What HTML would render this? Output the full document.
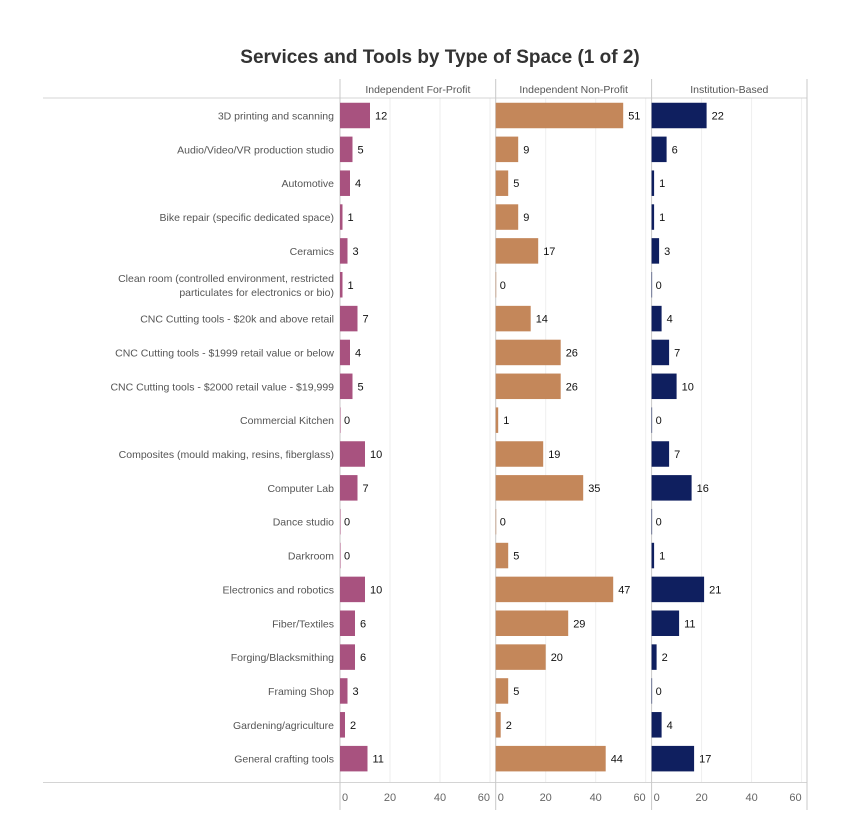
<!DOCTYPE html>
<html><head><meta charset="utf-8"><style>
body{margin:0;background:#fff;width:868px;height:831px;overflow:hidden;font-family:"Liberation Sans",sans-serif}
</style></head><body>
<svg id="chart" width="868" height="831" xmlns="http://www.w3.org/2000/svg">
<text x="440" y="63" text-anchor="middle" font-size="19" font-weight="bold" fill="#333">Services and Tools by Type of Space (1 of 2)</text>
<g id="g"></g>
</svg>
<script>
const categories=["3D printing and scanning","Audio/Video/VR production studio","Automotive","Bike repair (specific dedicated space)","Ceramics","Clean room (controlled environment, restricted|particulates for electronics or bio)","CNC Cutting tools - $20k and above retail","CNC Cutting tools - $1999 retail value or below","CNC Cutting tools - $2000 retail value - $19,999","Commercial Kitchen","Composites (mould making, resins, fiberglass)","Computer Lab","Dance studio","Darkroom","Electronics and robotics","Fiber/Textiles","Forging/Blacksmithing","Framing Shop","Gardening/agriculture","General crafting tools"];
const forProfit=[12,5,4,1,3,1,7,4,5,0,10,7,0,0,10,6,6,3,2,11];
const nonProfit=[51,9,5,9,17,0,14,26,26,1,19,35,0,5,47,29,20,5,2,44];
const institution=[22,6,1,1,3,0,4,7,10,0,7,16,0,1,21,11,2,0,4,17];
const panelNames=["Independent For-Profit","Independent Non-Profit","Institution-Based"];
const ticks=[0,20,40,60];
const series=[forProfit,nonProfit,institution];
const colors=["#a8527f","#c4875a","#0f1f5f"];
const ns="http://www.w3.org/2000/svg";
const g=document.getElementById("g");
const panelX=[340,495.7,651.6], pxPer=2.5, topY=98, bottomY=782.5, step=33.85, firstY=115.5, barH=25.5;
function X(p,v){return panelX[p]+v*pxPer;}
function Y(i){return firstY+step*i;}
function mk(t,a){const e=document.createElementNS(ns,t);for(const k in a)e.setAttribute(k,a[k]);g.appendChild(e);return e;}
for(let p=0;p<3;p++){for(const t of ticks){if(t===0)continue;const l=mk("line",{x1:X(p,t),x2:X(p,t),y1:topY,y2:bottomY,stroke:"#eee","stroke-width":1});

}}
let l1=mk("line",{x1:43,x2:807,y1:topY,y2:topY,stroke:"#d4d4d4"});


let l2=mk("line",{x1:43,x2:807,y1:bottomY,y2:bottomY,stroke:"#d4d4d4"});


for(const x of [...panelX,807]){const v=mk("line",{x1:x,x2:x,y1:79,y2:810,stroke:"#c8c8c8"});

}
for(let p=0;p<3;p++){
const h=mk("text",{x:(panelX[p]+(p<2?panelX[p+1]:807))/2,y:93,"text-anchor":"middle","font-size":"10.5",fill:"#555"});h.textContent=panelNames[p];


for(const t of ticks){const tx=mk("text",{x:t===0?X(p,t)+2:X(p,t),y:801,"text-anchor":t===0?"start":(t===60?"end":"middle"),"font-size":"11",fill:"#666"});tx.textContent=t;

}
series[p].forEach((v,i)=>{
const r=mk("rect",{x:X(p,0),y:Y(i)-barH/2,width:Math.max(v*pxPer,0.5),height:barH,fill:colors[p]});


const lb=mk("text",{x:X(p,v)+(v?5:4),y:Y(i)+4,"font-size":"11",fill:"#111"});lb.textContent=v;


});}
categories.forEach((c,i)=>{const parts=c.split("|");parts.forEach((s,j)=>{
const t=mk("text",{x:334,y:Y(i)+4+(parts.length>1?(j-0.5)*14:0),"text-anchor":"end","font-size":"10.5",fill:"#555"});t.textContent=s;


});});
</script>
</body></html>
